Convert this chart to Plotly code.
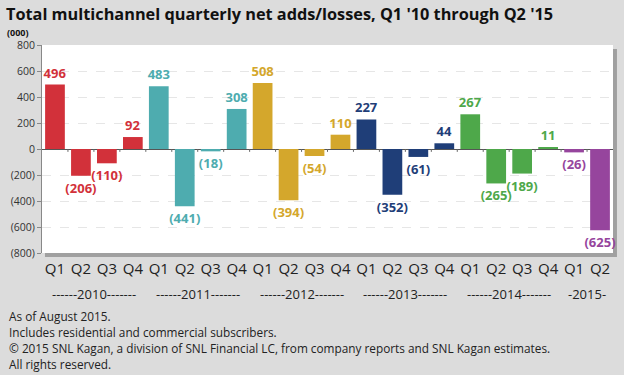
import plotly.graph_objects as go

quarters = ["Q1", "Q2", "Q3", "Q4"] * 5 + ["Q1", "Q2"]
year_labels = ["------2010-------", "------2011-------", "------2012-------",
               "------2013-------", "------2014-------", "-2015-"]
values = [496, -206, -110, 92,
          483, -441, -18, 308,
          508, -394, -54, 110,
          227, -352, -61, 44,
          267, -265, -189, 11,
          -26, -625]
year_colors = ["#d2313a", "#4eacaf", "#d4a72c", "#1f3e78", "#4ea84a", "#96459d"]
ytick_vals = [800, 600, 400, 200, 0, -200, -400, -600, -800]
ytick_text = ["800", "600", "400", "200", "0", "(200)", "(400)", "(600)", "(800)"]
notes = ["As of August 2015.",
         "Includes residential and commercial subscribers.",
         "\u00a9 2015 SNL Kagan, a division of SNL Financial LC, from company reports and SNL Kagan estimates.",
         "All rights reserved."]

x = list(range(len(values)))
colors = [year_colors[i // 4] for i in x]
labels = [str(v) if v >= 0 else "(%d)" % (-v) for v in values]

FONT = "Open Sans"
W, H = 624, 375
ML, MR, MT, MB = 37, 11, 45, 122
PW, PH = W - ML - MR, H - MT - MB


def px(xp):
    return (xp - ML) / PW


def py(yp):
    return (H - MB - yp) / PH


fig = go.Figure()
fig.add_trace(go.Bar(
    x=x, y=values, marker=dict(color=colors, line=dict(width=0)),
    text=labels, textposition="outside", constraintext="none", cliponaxis=False,
    textfont=dict(family=FONT, size=13, color=colors, weight="bold"),
    hoverinfo="skip", width=0.76,
))

shapes = []
shapes.append(dict(type="rect", xref="paper", yref="paper", x0=px(ML + 3), x1=px(W - MR + 4),
                   y0=py(H - MB + 4), y1=py(MT + 4),
                   fillcolor="#a0a0a0", line=dict(width=0), layer="below"))
shapes.append(dict(type="rect", xref="paper", yref="paper", x0=0, x1=1, y0=0, y1=1,
                   fillcolor="white", line=dict(width=0), layer="below"))
for i in range(len(values) - 1):
    shapes.append(dict(type="line", xref="x", yref="y", x0=i + 0.5, x1=i + 0.5, y0=0, y1=-22,
                       line=dict(color="#666666", width=1), layer="above"))

annotations = []
for k, yl in enumerate(year_labels):
    start = 4 * k
    end = min(start + 3, len(values) - 1)
    annotations.append(dict(x=(start + end) / 2, y=py(294), xref="x", yref="paper", text=yl,
                            showarrow=False, font=dict(family=FONT, size=13, color="#222222"),
                            yanchor="middle"))
annotations.append(dict(x=px(0), y=py(14.5), xref="paper", yref="paper",
                        text="<b>Total multichannel quarterly net adds/losses, Q1 '10 through Q2 '15</b>",
                        showarrow=False, xanchor="left", yanchor="middle", borderpad=0,
                        font=dict(family=FONT, size=16.3, color="#111111")))
annotations.append(dict(x=px(1), y=py(32.5), xref="paper", yref="paper", text="<b>(000)</b>",
                        showarrow=False, xanchor="left", yanchor="middle", borderpad=0,
                        font=dict(family=FONT, size=9, color="#111111")))
for j, n in enumerate(notes):
    annotations.append(dict(x=px(2), y=py(316 + 16 * j), xref="paper", yref="paper", text=n,
                            showarrow=False, xanchor="left", yanchor="middle",
                            font=dict(family=FONT, size=11.8, color="#222222")))

fig.update_layout(
    width=W, height=H,
    margin=dict(l=ML, r=MR, t=MT, b=MB),
    paper_bgcolor="#dcdcdc", plot_bgcolor="rgba(0,0,0,0)",
    showlegend=False, shapes=shapes, annotations=annotations,
    xaxis=dict(tickmode="array", tickvals=x, ticktext=quarters, range=[-0.5, len(values) - 0.5],
               showgrid=False, zeroline=False, showline=False, ticks="",
               ticklabelstandoff=5,
               tickfont=dict(family=FONT, size=15, color="#222222")),
    yaxis=dict(range=[-800, 800], tickmode="array", tickvals=ytick_vals, ticktext=ytick_text,
               showgrid=True, gridcolor="#e6e6e6", griddash="dash", gridwidth=1,
               zeroline=True, zerolinecolor="#555555", zerolinewidth=1,
               showline=True, linecolor="#888888", linewidth=1,
               ticks="outside", ticklen=4, tickcolor="#888888",
               tickfont=dict(family=FONT, size=10.5, color="#333333")),
)

fig.write_html("out.html", post_script="document.body.style.margin='0';",
               config={"displayModeBar": False})
